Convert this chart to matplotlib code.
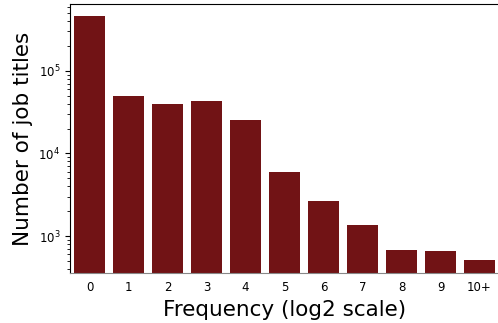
import numpy as np
import matplotlib
matplotlib.use("Agg")
import matplotlib.pyplot as plt

# frequency bins (log2) and number of job titles in each
bins = ['0', '1', '2', '3', '4', '5', '6', '7', '8', '9', '10+']
counts = [464000, 49800, 39800, 43300, 25500, 5890, 2690, 1360, 676, 658, 512]

fig = plt.figure(figsize=(4.98, 3.23), dpi=100)
ax = fig.add_axes([70 / 498, 50 / 323, 429 / 498, 269 / 323])

x = np.arange(len(bins))
ax.bar(x, counts, width=0.8, color='#711315')
ax.set_yscale('log')
ax.set_xlim(-0.5, len(bins) - 0.5)
ax.set_ylim(357, 645000)

ax.set_xticks(x)
ax.set_xticklabels(bins)
ax.tick_params(axis='x', length=0, labelsize=8.5, pad=6)
ax.tick_params(axis='y', which='major', labelsize=8.5, length=3.5)
ax.tick_params(axis='y', which='minor', length=2)

ax.spines['right'].set_visible(False)
ax.spines['bottom'].set_color('#888888')

ax.set_xlabel('Frequency (log2 scale)', fontsize=15.5)
ax.set_ylabel('Number of job titles', fontsize=15.5)

fig.savefig('out.png', dpi=100)
